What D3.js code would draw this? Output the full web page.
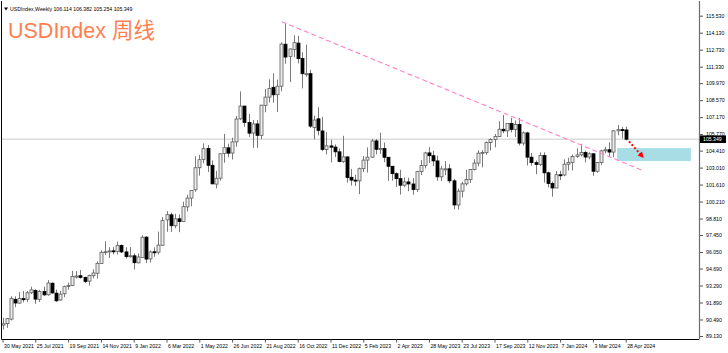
<!DOCTYPE html>
<html lang="en">
<head>
<meta charset="UTF-8">
<title>USDIndex Weekly</title>
<script src="https://d3js.org/d3.v7.min.js"></script>
<style>
  body { margin: 0; background: #fff; }
  svg text { font-family: "Liberation Sans", Arial, sans-serif; }
  .axis text { font-size: 5.2px; fill: #000; }
  .axis .domain { display: none; }
  .axis .tick line { stroke: #555; }
</style>
</head>
<body>
<div id="chart"></div>
<script>
// weekly candles, 30 May 2021 .. 28 Apr 2024
const openV = [
  90.03,90.15,90.52,92.15,91.84,92.21,92.16,92.69,92.89,92.15,
  92.79,92.53,93.48,92.66,92.10,92.61,93.24,93.29,94.04,94.10,
  93.96,93.65,94.10,94.30,95.10,96.04,96.13,96.15,96.10,96.60,
  96.06,95.67,95.74,95.16,95.60,97.28,95.48,96.07,96.04,96.61,
  98.70,99.12,98.22,98.79,98.57,99.77,100.50,101.18,103.00,103.67,
  104.59,103.20,101.65,102.14,104.17,104.64,104.21,105.13,107.03,108.08,
  106.73,105.86,106.61,105.67,108.14,108.82,109.63,109.02,109.72,113.18,
  112.16,112.75,113.27,112.01,110.74,110.75,106.32,107.03,106.03,104.51,
  104.80,104.70,104.31,103.52,103.89,102.21,101.98,101.92,102.92,103.63,
  103.87,105.21,104.52,104.58,103.86,103.12,102.51,102.10,101.56,101.83,
  101.66,101.21,102.68,103.19,104.22,103.99,103.56,102.25,102.90,102.91,
  101.92,99.93,101.07,101.67,102.03,102.85,103.38,104.20,104.26,105.07,
  105.32,105.58,106.17,106.04,106.65,106.16,106.56,105.03,105.87,103.87,
  103.42,103.27,104.00,102.58,101.70,101.33,102.42,102.40,103.29,103.44,
  103.92,104.06,104.26,103.88,104.15,102.71,103.43,104.39,104.48,104.29,
  106.04,106.14,106.114
];
const highV = [
  90.63,90.61,92.41,92.40,92.74,92.84,92.84,93.19,92.98,92.93,
  93.20,93.73,93.55,92.95,92.86,93.28,93.53,94.50,94.48,94.56,
  94.03,94.20,94.63,95.27,96.18,96.94,96.45,96.46,96.91,96.67,
  96.44,96.46,95.93,95.94,97.44,97.37,96.18,96.44,97.73,98.93,
  99.42,99.30,99.20,99.15,100.19,100.77,101.14,103.94,104.06,105.01,
  104.87,103.60,102.74,104.16,105.79,104.98,105.47,107.27,109.29,108.10,
  107.43,106.93,106.93,108.17,109.48,110.28,110.79,110.26,113.33,114.90,
  112.82,113.92,113.88,112.52,113.15,111.07,107.30,107.99,107.19,105.93,
  105.31,104.92,104.58,105.63,103.95,102.90,102.41,103.01,103.96,104.67,
  105.36,105.36,105.88,105.07,103.87,103.13,102.62,102.83,102.19,102.17,
  102.16,102.74,103.63,104.31,104.70,104.40,103.99,103.14,103.54,103.29,
  102.08,101.28,101.84,102.84,102.87,103.70,104.44,104.45,105.16,105.43,
  105.78,106.84,107.35,106.60,107.11,106.89,107.11,106.00,105.96,104.21,
  103.60,104.27,104.27,102.68,101.85,102.73,102.75,103.69,103.82,104.08,
  104.60,104.97,104.39,104.27,104.18,103.47,104.48,104.73,105.10,106.10,
  106.52,106.37,106.382
];
const lowV = [
  89.66,89.81,90.41,91.51,91.80,91.91,91.92,92.58,91.78,91.94,
  92.45,92.45,92.62,91.94,92.05,92.33,92.95,93.24,93.87,93.86,
  93.50,93.28,93.88,93.87,95.10,95.82,95.56,95.86,95.85,95.97,
  95.53,95.59,94.63,95.12,95.60,95.14,95.19,95.66,95.84,96.58,
  97.72,97.71,98.01,97.69,98.52,99.39,99.82,101.02,102.35,103.36,
  102.65,101.64,101.30,101.94,103.41,103.86,103.68,104.73,106.92,106.38,
  105.54,104.64,104.64,105.36,107.57,108.38,108.35,107.59,109.30,111.57,
  110.06,112.10,111.60,109.54,110.51,106.27,105.34,105.66,104.37,104.11,
  103.44,103.87,103.45,103.40,101.77,101.53,101.50,100.82,102.64,102.60,
  103.80,104.10,104.14,103.45,101.91,101.94,101.42,100.79,101.39,101.06,
  100.78,101.01,102.39,102.94,103.39,103.14,101.92,101.91,102.38,101.72,
  99.58,99.55,100.55,101.52,101.74,102.78,103.11,103.03,104.06,104.42,
  104.68,105.54,105.84,105.53,105.91,105.52,104.84,104.84,103.18,103.17,
  102.46,103.14,101.77,101.38,100.61,101.33,101.98,102.30,102.77,102.78,
  103.82,103.92,103.44,103.70,102.33,102.59,103.22,104.18,103.89,103.87,
  105.68,105.41,105.254
];
const closeV = [
  90.14,90.56,92.23,91.85,92.23,92.12,92.69,92.93,92.17,92.80,
  92.52,93.50,92.68,92.03,92.58,93.20,93.30,94.04,94.07,93.96,
  93.62,94.12,94.32,95.12,96.03,96.08,96.14,96.09,96.58,96.06,
  95.67,95.74,95.17,95.64,97.27,95.47,96.06,96.04,96.62,98.64,
  99.13,98.22,98.79,98.57,99.79,100.50,101.12,103.00,103.66,104.57,
  103.20,101.67,102.13,104.15,104.65,104.20,105.13,107.01,108.08,106.73,
  105.85,106.61,105.67,108.16,108.82,109.54,109.01,109.72,113.19,112.12,
  112.79,113.31,111.99,110.75,110.75,106.43,106.93,106.08,104.51,104.80,
  104.69,104.31,103.52,103.89,102.20,101.98,101.93,102.92,103.63,103.87,
  105.21,104.52,104.58,103.86,103.12,102.51,102.10,101.56,101.83,101.66,
  101.21,102.68,103.19,104.22,103.99,103.56,102.25,102.90,102.91,101.92,
  99.93,101.07,101.67,102.03,102.85,103.38,104.20,104.26,105.07,105.32,
  105.58,106.17,106.04,106.65,106.16,106.56,105.03,105.87,103.87,103.42,
  103.27,104.00,102.58,101.70,101.33,102.42,102.40,103.29,103.44,103.92,
  104.06,104.26,103.88,104.15,102.71,103.43,104.39,104.48,104.29,106.04,
  106.14,106.08,105.349
];

// axis labels
const dateLabels = ["30 May 2021","25 Jul 2021","19 Sep 2021","14 Nov 2021","9 Jan 2022",
  "6 Mar 2022","1 May 2022","26 Jun 2022","21 Aug 2022","16 Oct 2022","11 Dec 2022",
  "5 Feb 2023","2 Apr 2023","28 May 2023","23 Jul 2023","17 Sep 2023","12 Nov 2023",
  "7 Jan 2024","3 Mar 2024","28 Apr 2024"];
const dateTickIdx = [0,8,16,24,32,40,48,56,64,72,80,88,96,104,112,120,128,136,144,152];
const priceTicks = [115.53,114.13,112.73,111.33,109.97,108.57,107.17,105.77,104.41,103.01,
  101.61,100.21,98.81,97.45,96.05,94.69,93.29,91.89,90.49,89.13];

// drawn objects: [bar index, price]
const trendLine = [[68.1, 115.04], [155.9, 102.81]];
const targetZone = [[149.9, 104.62], [167.9, 103.55]];
const arrowLine = [[152.8, 105.17], [156.4, 103.80]];

const W = 728, H = 353;
const plot = {left: 1, right: 699, top: 1, bottom: 339};

const svg = d3.select("#chart").append("svg")
  .attr("width", W).attr("height", H)
  .style("display", "block");

const x = d3.scaleLinear().domain([0, 152]).range([2.5, 625.7]);
const y = d3.scaleLinear().domain([89.13, 115.53]).range([336, 15.7]);

svg.append("defs").append("clipPath").attr("id", "clip")
  .append("rect")
  .attr("x", plot.left).attr("y", plot.top)
  .attr("width", plot.right - plot.left).attr("height", plot.bottom - plot.top);

const g = svg.append("g").attr("clip-path", "url(#clip)");

// bid line
const lastPrice = closeV[closeV.length - 1];
g.append("line")
  .attr("x1", plot.left).attr("x2", plot.right)
  .attr("y1", y(lastPrice)).attr("y2", y(lastPrice))
  .attr("stroke", "#dcdcdc").attr("stroke-width", 1.6);

// target zone
g.append("rect")
  .attr("x", x(targetZone[0][0]))
  .attr("y", y(targetZone[0][1]))
  .attr("width", x(targetZone[1][0]) - x(targetZone[0][0]))
  .attr("height", y(targetZone[1][1]) - y(targetZone[0][1]))
  .attr("fill", "#a9dde5");

// candles
const candles = g.append("g").selectAll("g")
  .data(d3.range(openV.length))
  .join("g");

candles.append("line")
  .attr("x1", i => Math.round(x(i)) + 0.5)
  .attr("x2", i => Math.round(x(i)) + 0.5)
  .attr("y1", i => y(highV[i]))
  .attr("y2", i => y(lowV[i]))
  .attr("stroke", "#7a7a7a")
  .attr("stroke-width", 1);

candles.append("rect")
  .attr("x", i => Math.round(x(i)) - 1)
  .attr("y", i => y(Math.max(openV[i], closeV[i])))
  .attr("width", 3)
  .attr("height", i => Math.max(1, Math.abs(y(openV[i]) - y(closeV[i]))))
  .attr("fill", i => closeV[i] >= openV[i] ? "#ececec" : "#000")
  .attr("stroke", i => closeV[i] >= openV[i] ? "#5c5c5c" : "#000")
  .attr("stroke-width", 0.8);

// trend line
g.append("line")
  .attr("x1", x(trendLine[0][0])).attr("y1", y(trendLine[0][1]))
  .attr("x2", x(trendLine[1][0])).attr("y2", y(trendLine[1][1]))
  .attr("stroke", "#ff80c4").attr("stroke-width", 1.1)
  .attr("stroke-dasharray", "5,3");

// red dotted arrow
const ax0 = x(arrowLine[0][0]), ay0 = y(arrowLine[0][1]);
const ax1 = x(arrowLine[1][0]), ay1 = y(arrowLine[1][1]);
const ang = Math.atan2(ay1 - ay0, ax1 - ax0);
const headLen = 6;
g.append("line")
  .attr("x1", ax0).attr("y1", ay0)
  .attr("x2", ax1 - Math.cos(ang) * headLen * 0.7)
  .attr("y2", ay1 - Math.sin(ang) * headLen * 0.7)
  .attr("stroke", "#ff0000").attr("stroke-width", 2)
  .attr("stroke-dasharray", "2,2");
const p1 = [ax1 - headLen * Math.cos(ang) + 3 * Math.sin(ang), ay1 - headLen * Math.sin(ang) - 3 * Math.cos(ang)];
const p2 = [ax1 - headLen * Math.cos(ang) - 3 * Math.sin(ang), ay1 - headLen * Math.sin(ang) + 3 * Math.cos(ang)];
g.append("path")
  .attr("d", `M${ax1},${ay1}L${p1[0]},${p1[1]}L${p2[0]},${p2[1]}Z`)
  .attr("fill", "#ff0000");

// frame
svg.append("path")
  .attr("d", `M${plot.left + 0.5},${plot.top}V${plot.bottom + 0.5}H${plot.right}`)
  .attr("fill", "none").attr("stroke", "#000").attr("stroke-width", 1);
svg.append("line")
  .attr("x1", plot.right + 0.5).attr("x2", plot.right + 0.5)
  .attr("y1", plot.top).attr("y2", plot.bottom + 0.5)
  .attr("stroke", "#6e6e6e").attr("stroke-width", 1.2);

// price axis
svg.append("g").attr("class", "axis")
  .attr("transform", `translate(${plot.right + 1},0)`)
  .call(d3.axisRight(y).tickValues(priceTicks).tickFormat(d3.format(".3f")).tickSize(3).tickPadding(3));

// date axis
svg.append("g").attr("class", "axis")
  .attr("transform", `translate(0,${plot.bottom + 0.5})`)
  .call(d3.axisBottom(x).tickValues(dateTickIdx).tickFormat((d, i) => dateLabels[i]).tickSize(3).tickPadding(2))
  .selectAll("text")
  .attr("text-anchor", "start")
  .attr("dx", "1");

// current price tag
svg.append("rect")
  .attr("x", plot.right + 1).attr("y", y(lastPrice) - 3.8)
  .attr("width", 26).attr("height", 7.6)
  .attr("fill", "#000");
svg.append("text")
  .attr("x", plot.right + 4).attr("y", y(lastPrice) + 1.9)
  .attr("font-size", 5.2).attr("fill", "#fff")
  .text(d3.format(".3f")(lastPrice));

// header line
svg.append("path")
  .attr("d", "M4,7.5L8,7.5L6,10.5Z").attr("fill", "#000");
svg.append("text")
  .attr("x", 10).attr("y", 10.5)
  .attr("font-size", 5.2).attr("fill", "#000")
  .text(`USDIndex,Weekly ${openV[152].toFixed(3)} ${highV[152].toFixed(3)} ${lowV[152].toFixed(3)} ${closeV[152].toFixed(3)}`);

// title
svg.append("text")
  .attr("x", 8).attr("y", 38)
  .attr("font-size", 21.5)
  .attr("fill", "#ff7f50")
  .style("font-family", "'Liberation Sans', 'Noto Sans CJK SC', sans-serif")
  .text("USDIndex 周线");
</script>
</body>
</html>
